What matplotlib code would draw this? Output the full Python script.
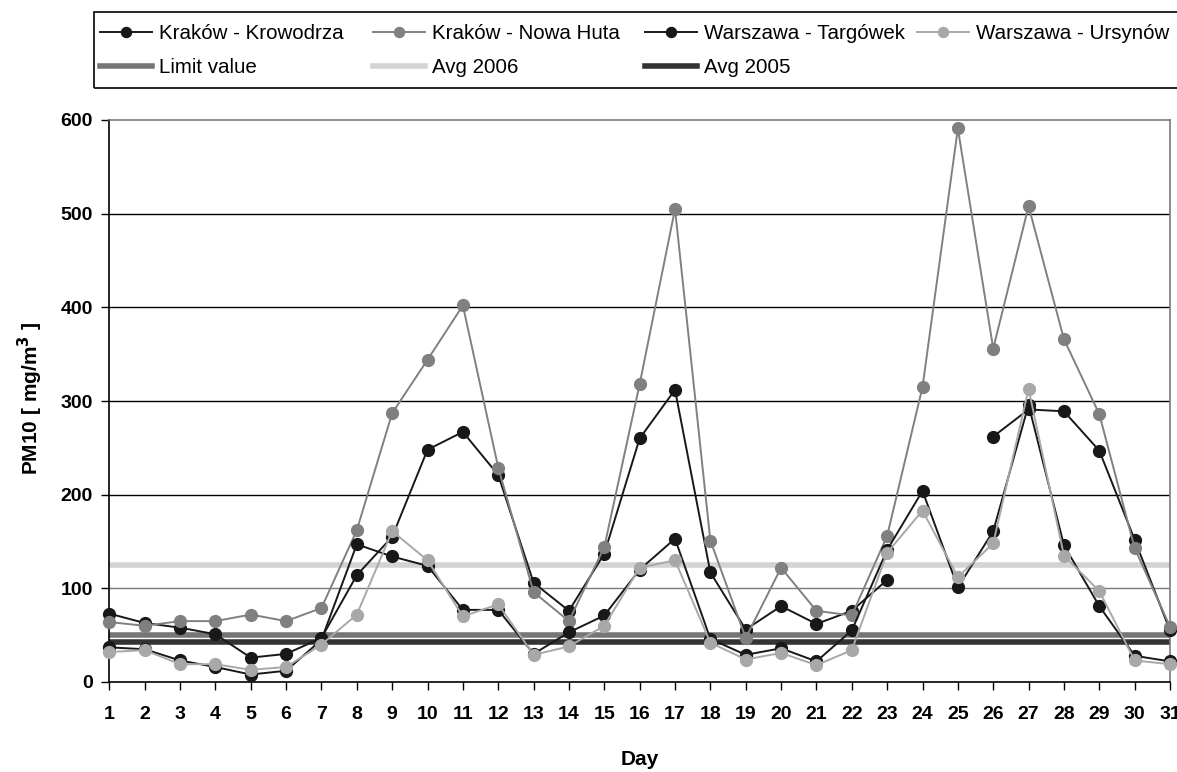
import numpy as np
import matplotlib
matplotlib.use("Agg")
import matplotlib.pyplot as plt
from matplotlib.patches import Rectangle

plt.rcParams['font.family'] = ['Liberation Sans', 'DejaVu Sans']

days = list(range(1, 32))
nan = np.nan
krowodrza = [73, 63, 58, 51, 26, 30, 47, 114, 155, 248, 267, 221, 106, 76, 137, 260,
             312, 117, 56, 81, 62, 76, 109, nan, nan, 262, 291, 289, 247, 152, 55]
nowa_huta = [64, 60, 65, 65, 72, 65, 79, 162, 287, 344, 402, 229, 96, 65, 144, 318,
             505, 151, 47, 122, 76, 71, 156, 315, 591, 356, 508, 366, 286, 143, 59]
targowek = [37, 35, 23, 16, 8, 12, 45, 147, 134, 124, 77, 77, 30, 53, 71, 120,
            153, 46, 29, 36, 22, 55, 141, 204, 101, 161, 296, 146, 81, 28, 22]
ursynow = [32, 34, 19, 19, 13, 16, 40, 72, 161, 130, 70, 83, 29, 38, 60, 122,
           130, 42, 24, 31, 18, 34, 138, 183, 112, 148, 313, 135, 97, 23, 19]
limit_value = 50
avg_2006 = 125
avg_2005 = 43

series_labels = ["Kraków - Krowodrza", "Kraków - Nowa Huta",
                 "Warszawa - Targówek", "Warszawa - Ursynów"]
ref_labels = ["Limit value", "Avg 2006", "Avg 2005"]
yticks = [0, 100, 200, 300, 400, 500, 600]

fig = plt.figure(figsize=(11.77, 7.72), dpi=100)
ax = fig.add_axes([109.3 / 1177, 1 - 682 / 772, (1170 - 109.3) / 1177, (682 - 120) / 772])

# gridlines
for yv in yticks[1:-1]:
    ax.axhline(yv, color='#7a7a7a' if yv == 100 else 'black', lw=1.0, zorder=1)

# reference lines
h_lim = ax.axhline(limit_value, color='#767676', lw=4, zorder=2, label=ref_labels[0])
h_06 = ax.axhline(avg_2006, color='#d3d3d3', lw=4, zorder=2, label=ref_labels[1])
h_05 = ax.axhline(avg_2005, color='#333333', lw=4, zorder=2, label=ref_labels[2])

cols = ['#181818', '#808080', '#181818', '#a8a8a8']
handles = []
for vals, c, lab in zip([krowodrza, nowa_huta, targowek, ursynow], cols, series_labels):
    h, = ax.plot(days, vals, color=c, lw=1.4, marker='o', ms=8.5, mfc=c, mec=c,
                 label=lab, zorder=3, clip_on=False)
    handles.append(h)

ax.set_xlim(1, 31)
ax.set_ylim(0, 600)
ax.set_xticks(days)
ax.set_yticks(yticks)
ax.tick_params(axis='both', direction='out', length=6, width=1, color='black',
               labelsize=14, pad=6)
ax.tick_params(axis='x', pad=11)
for lab in ax.get_xticklabels() + ax.get_yticklabels():
    lab.set_fontweight('bold')

ax.spines['left'].set_color('black')
ax.spines['bottom'].set_color('black')
ax.spines['top'].set_color('#7a7a7a')
ax.spines['right'].set_color('#7a7a7a')
for s in ax.spines.values():
    s.set_linewidth(1.2)

ax.set_xlabel('Day', fontsize=15, fontweight='bold', labelpad=20)
fig.text(30 / 1177, 1 - 398 / 772, 'PM10 [ mg/m$^{\\mathbf{3}}$ ]', rotation=90,
         ha='center', va='center', fontsize=15, fontweight='bold')

# legend: 4 equal-width columns
col_x = [100, 373, 645, 917]
groups = [[handles[0], h_lim], [handles[1], h_06], [handles[2], h_05], [handles[3]]]
for x, grp in zip(col_x, groups):
    fig.legend(handles=grp, labels=[g.get_label() for g in grp],
               loc='upper left', bbox_to_anchor=(x / 1177, 1 - 24 / 772),
               frameon=False, fontsize=14.8, handlelength=2.55,
               handletextpad=0.3, borderpad=0, borderaxespad=0,
               labelspacing=0.72, numpoints=1, markerscale=0.85)
fig.patches.append(Rectangle((93.6 / 1177, 1 - 88 / 772), (1190 - 93.6) / 1177,
                             (88 - 11.8) / 772, transform=fig.transFigure,
                             fill=False, edgecolor='black', lw=1.2))

fig.savefig('out.png', dpi=100)
